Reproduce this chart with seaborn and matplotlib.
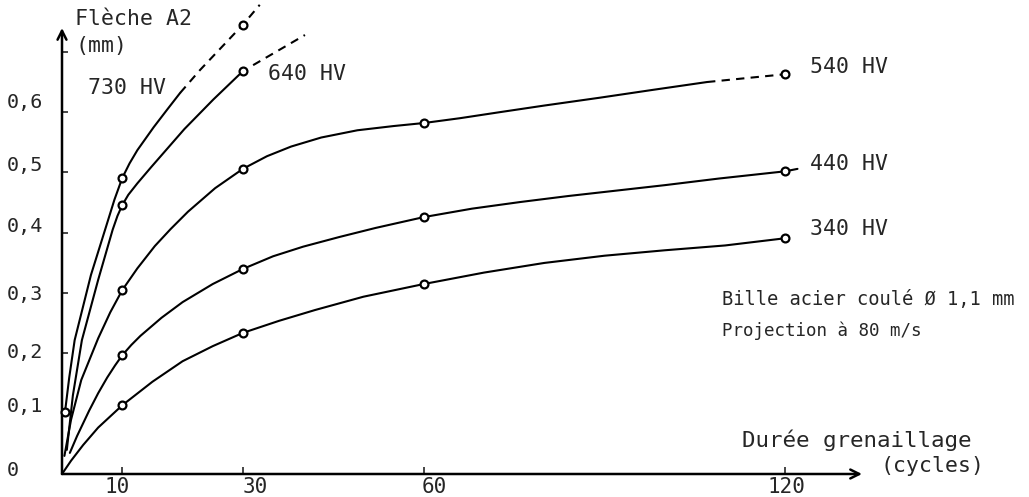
import matplotlib
matplotlib.use("Agg")
import matplotlib.pyplot as plt
import matplotlib.transforms as mtransforms
import seaborn as sns

# --- Flèche Almen A2 (mm) en fonction de la durée de grenaillage (cycles) ---

# Points de mesure (cercles)
hv340_x = [10, 30, 60, 120]
hv340_y = [0.114, 0.234, 0.315, 0.391]
hv440_x = [10, 30, 60, 120]
hv440_y = [0.197, 0.340, 0.426, 0.502]
hv540_x = [10, 30, 60, 120]
hv540_y = [0.305, 0.506, 0.582, 0.663]
hv640_x = [10, 30]
hv640_y = [0.446, 0.668]
hv730_x = [0.5, 10, 30]
hv730_y = [0.103, 0.491, 0.745]

# Tracé des courbes (trait plein)
c340_x = [0, 1.5, 3.5, 6, 10, 15, 20, 25, 30, 36, 42, 50, 60, 70, 80, 90, 100, 110, 120]
c340_y = [0, 0.022, 0.048, 0.077, 0.114, 0.153, 0.187, 0.212, 0.234, 0.254, 0.272,
          0.294, 0.315, 0.334, 0.350, 0.362, 0.371, 0.379, 0.391]
c440_x = [1.3, 2.5, 4.5, 6, 7.5, 8.8, 10, 11.5, 13, 16.5, 20, 25, 30, 35, 40, 46, 52,
          60, 68, 76, 84, 92, 100, 109, 120, 122]
c440_y = [0.035, 0.063, 0.105, 0.134, 0.160, 0.180, 0.197, 0.214, 0.229, 0.259, 0.285,
          0.315, 0.340, 0.361, 0.377, 0.393, 0.408, 0.426, 0.440, 0.451, 0.461, 0.470,
          0.479, 0.490, 0.502, 0.506]
c540_x = [0.4, 1.5, 3.2, 6, 8, 10, 12.5, 15.4, 18, 20.9, 25.4, 30, 34, 38, 43, 49, 55,
          60, 66, 72.6, 80, 89.2, 98, 107]
c540_y = [0.03, 0.09, 0.156, 0.225, 0.268, 0.305, 0.341, 0.378, 0.406, 0.435, 0.474,
          0.506, 0.527, 0.543, 0.558, 0.570, 0.577, 0.582, 0.590, 0.600, 0.611, 0.624,
          0.637, 0.650]
c640_x = [0.8, 1.8, 3.3, 6.0, 8.4, 9.2, 10, 11, 12.5, 14.8, 20.3, 25.1, 30]
c640_y = [0.04, 0.13, 0.222, 0.322, 0.405, 0.428, 0.446, 0.463, 0.482, 0.509, 0.572,
          0.621, 0.668]
c730_x = [0.5, 1.2, 2.1, 4.8, 7.3, 8.7, 10, 11.2, 12.5, 15.2, 17.5, 19.6]
c730_y = [0.103, 0.16, 0.222, 0.330, 0.410, 0.455, 0.491, 0.515, 0.537, 0.575, 0.605,
          0.632]

# Extrapolations (tirets)
e540_x = [107, 120]
e540_y = [0.650, 0.663]
e640_x = [31.7, 40.3]
e640_y = [0.678, 0.728]
e730_x = [19.6, 22.9, 30, 32.8]
e730_y = [0.632, 0.670, 0.745, 0.778]

durete = ["340 HV", "440 HV", "540 HV", "640 HV", "730 HV"]

x_ticks = [10, 30, 60, 120]
x_tick_labels = ["10", "30", "60", "120"]
y_ticks = [0, 0.1, 0.2, 0.3, 0.4, 0.5, 0.6, 0.7]
y_tick_labels = ["0", "0,1", "0,2", "0,3", "0,4", "0,5", "0,6", ""]

sns.set_style("white")
plt.rcParams["font.family"] = ["DejaVu Sans Mono", "DejaVu Sans"]

fig = plt.figure(figsize=(10.29, 4.97), dpi=100)
ax = fig.add_axes([62 / 1029, 23 / 497, 800 / 1029, 446 / 497])
ax.set_xlim(0, 132.7)
ax.set_ylim(0, 0.7396)

LW = 1.5


def trait(x, y, dashed=False):
    sns.lineplot(x=x, y=y, ax=ax, color="black", lw=LW, estimator=None, sort=False,
                 clip_on=False, linestyle=(0, (4, 3)) if dashed else "-")


def mesures(x, y):
    sns.scatterplot(x=x, y=y, ax=ax, marker="o", s=32, color="white",
                    edgecolor="black", linewidth=1.6, zorder=4, clip_on=False)


for cx, cy in [(c340_x, c340_y), (c440_x, c440_y), (c540_x, c540_y),
               (c640_x, c640_y), (c730_x, c730_y)]:
    trait(cx, cy)
for ex, ey in [(e540_x, e540_y), (e640_x, e640_y), (e730_x, e730_y)]:
    trait(ex, ey, dashed=True)
for mx, my in [(hv340_x, hv340_y), (hv440_x, hv440_y), (hv540_x, hv540_y),
               (hv640_x, hv640_y), (hv730_x, hv730_y)]:
    mesures(mx, my)

# Axes fléchés
for s in ax.spines.values():
    s.set_visible(False)
arrow = dict(arrowstyle="->", lw=1.8, color="black", shrinkA=0, shrinkB=0,
             mutation_scale=16)
ax.annotate("", xy=(1, 0), xytext=(0, 0), xycoords="axes fraction", arrowprops=arrow)
ax.annotate("", xy=(0, 1), xytext=(0, 0), xycoords="axes fraction", arrowprops=arrow)

ax.set_xticks(x_ticks, x_tick_labels)
ax.set_yticks(y_ticks, y_tick_labels)
ax.tick_params(axis="x", direction="in", length=5, width=1.2, pad=2, labelsize=15,
               bottom=True)
ax.tick_params(axis="y", direction="in", length=4, width=1.2, pad=40, labelsize=14.5,
               left=True)
ax.set_xlabel("")
ax.set_ylabel("")

# Graduations lettrées à la main : léger décalage des chiffres (en pixels)
y_shift_px = {"0": 6, "0,1": 9, "0,2": 3, "0,3": 1, "0,4": 8, "0,5": 9, "0,6": 12}
for lbl in ax.get_yticklabels():
    dy = y_shift_px.get(lbl.get_text(), 0)
    lbl.set_horizontalalignment("left")
    lbl.set_transform(lbl.get_transform()
                      + mtransforms.ScaledTranslation(0, dy / 100, fig.dpi_scale_trans))
x_shift_px = {"10": -5, "30": 12, "60": 11, "120": 1}
for lbl in ax.get_xticklabels():
    dx = x_shift_px.get(lbl.get_text(), 0)
    lbl.set_transform(lbl.get_transform()
                      + mtransforms.ScaledTranslation(dx / 100, 0, fig.dpi_scale_trans))

# Étiquettes des courbes
lab_x = [124.0, 124.0, 124.0, 34.2, 4.3]
lab_y = [0.406, 0.514, 0.675, 0.663, 0.640]
for txt, lx, ly in zip(durete, lab_x, lab_y):
    ax.text(lx, ly, txt, fontsize=15.5, ha="left", va="center")

ax.text(2.2, 0.755, "Flèche A2", fontsize=15.5, ha="left", va="center", clip_on=False)
ax.text(2.2, 0.709, "(mm)", fontsize=15.5, ha="left", va="center", clip_on=False)
ax.text(109.5, 0.290, "Bille acier coulé Ø 1,1 mm", fontsize=13.5, ha="left", va="center")
ax.text(109.5, 0.238, "Projection à 80 m/s", fontsize=12.6, ha="left", va="center")
ax.text(112.8, 0.056, "Durée grenaillage", fontsize=16.2, ha="left", va="center")
ax.text(135.7, 0.013, "(cycles)", fontsize=15.5, ha="left", va="center", clip_on=False)

fig.savefig("out.png", dpi=100, facecolor="white")
